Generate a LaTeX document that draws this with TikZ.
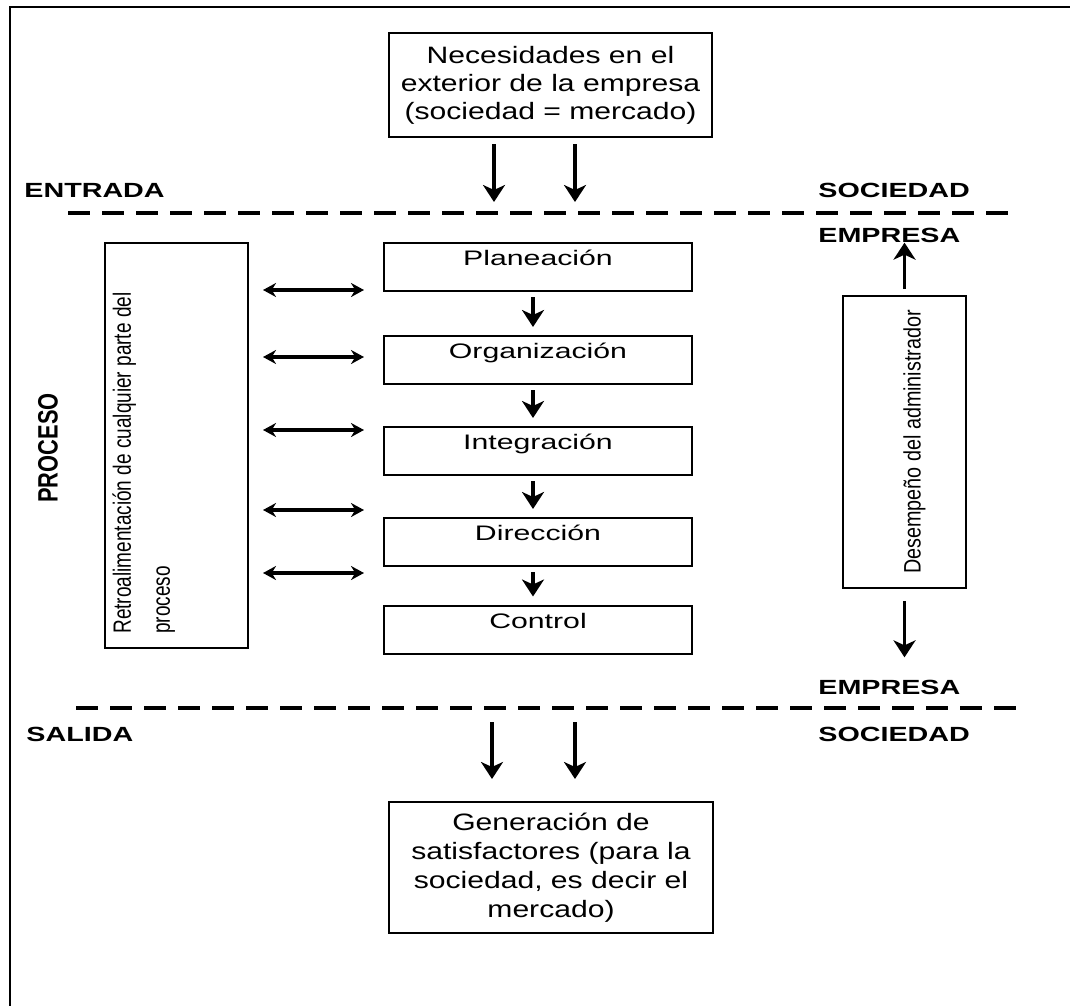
\documentclass[tikz,border=0pt]{standalone}
\usepackage{fontspec}
\setmainfont{Liberation Sans}
\newfontfamily\boxfont[FakeStretch=1.27]{Liberation Sans}
\newfontfamily\stepfont[FakeStretch=1.44]{Liberation Sans}
\newfontfamily\tagfont[FakeStretch=1.4]{Liberation Sans}
\newfontfamily\fbfont[FakeStretch=0.76]{Liberation Sans}
\newfontfamily\desfont[FakeStretch=0.83]{Liberation Sans}
\newfontfamily\procfont[FakeStretch=0.78]{Liberation Sans}
\usetikzlibrary{arrows.meta}

\begin{document}
\begin{tikzpicture}[x=0.5pt,y=-0.5pt,
  infobox/.style={draw,line width=1pt,align=center,inner sep=0pt},
  stepbox/.style={draw,line width=1pt,inner sep=0pt,minimum width=154pt,
    text height=11.25pt,text depth=12.75pt,
    font=\stepfont\fontsize{10.5pt}{12pt}\selectfont},
  tag/.style={anchor=west,inner sep=0pt,font=\tagfont\bfseries\fontsize{10.25pt}{12pt}\selectfont},
  flow/.style={-{Stealth[length=8.5pt,width=11pt,inset=2.5pt]},line width=1.6pt},
  both/.style={{Stealth[length=6.5pt,width=7pt]}-{Stealth[length=6.5pt,width=7pt]},line width=1.8pt},
  cut/.style={line width=2pt,dash pattern=on 11pt off 6pt}]
  \useasboundingbox (0,0) rectangle (1070,1006);
  % frame
  \draw[line width=1pt] (1070,7) -- (9.5,7) -- (9.5,1006);

  % society boxes
  \node[infobox,minimum width=161.5pt,minimum height=52pt,
    font=\boxfont\fontsize{11.85pt}{14pt}\selectfont] (needs) at (550.5,85)
    {Necesidades en el\\exterior de la empresa\\(sociedad = mercado)};
  \node[infobox,minimum width=162pt,minimum height=65.5pt,
    font=\boxfont\fontsize{11.85pt}{14.5pt}\selectfont] (gen) at (551,867.5)
    {Generación de\\satisfactores (para la\\sociedad, es decir el\\mercado)};

  % process steps
  \node[stepbox] (plan) at (538,267) {Planeación};
  \node[stepbox] (org) at (538,360) {Organización};
  \node[stepbox] (integ) at (538,451) {Integración};
  \node[stepbox] (dir) at (538,542) {Dirección};
  \node[stepbox] (ctrl) at (538,629.5) {Control};

  % side boxes
  \node[draw,line width=1pt,minimum width=71.5pt,minimum height=202.5pt] (fb) at (176.5,445.5) {};
  \node[rotate=90,anchor=north west,align=left,inner sep=0pt,
    font=\fbfont\fontsize{12.5pt}{19.5pt}\selectfont] (fbtext) at ([xshift=4pt,yshift=7.5pt]fb.south west)
    {Retroalimentación de cualquier parte del\\proceso};
  \node[draw,line width=1pt,minimum width=61.5pt,minimum height=146pt] (des) at (904.5,442) {};
  \node[rotate=90,inner sep=0pt,font=\desfont\fontsize{11.9pt}{14pt}\selectfont] (destext)
    at ([xshift=5pt]des.center) {Desempeño del administrador};
  \node[rotate=90,inner sep=0pt,font=\procfont\bfseries\fontsize{14pt}{16pt}\selectfont] (proc)
    at (48,448) {PROCESO};

  % labels
  \node[tag] (entrada) at (24,190) {ENTRADA};
  \node[tag] (soc1) at (818,190) {SOCIEDAD};
  \node[tag] (emp1) at (818,235) {EMPRESA};
  \node[tag] (emp2) at (818,687) {EMPRESA};
  \node[tag] (salida) at (26,734) {SALIDA};
  \node[tag] (soc2) at (818,734) {SOCIEDAD};

  % boundaries
  \coordinate (inL) at (68,213);
  \coordinate (inR) at (1009,213);
  \coordinate (outL) at (76,708);
  \coordinate (outR) at (1020,708);
  \draw[cut] (inL) -- (inR);
  \draw[cut] (outL) -- (outR);

  % connectors
  \draw[flow,shorten <=3pt,shorten >=5.5pt] ([xshift=-28.25pt]needs.south) -- ([xshift=-28.25pt]needs.south |- inL);
  \draw[flow,shorten <=3pt,shorten >=5.5pt] ([xshift=12.25pt]needs.south) -- ([xshift=12.25pt]needs.south |- inL);
  \draw[flow,shorten <=7pt,shorten >=11pt] ([xshift=-29.5pt]gen.north |- outL) -- ([xshift=-29.5pt]gen.north);
  \draw[flow,shorten <=7pt,shorten >=11pt] ([xshift=12pt]gen.north |- outL) -- ([xshift=12pt]gen.north);
  \foreach \a/\b in {plan/org,org/integ,integ/dir,dir/ctrl}
    \draw[flow,shorten <=2.5pt,shorten >=4pt] ([xshift=-2.5pt]\a.south) -- ([xshift=-2.5pt]\b.north);
  \foreach \y in {290,357,430,510,573}
    \draw[both] ([xshift=7pt]fb.east |- 0,\y) -- ([xshift=-9.5pt]plan.west |- 0,\y);
  \draw[flow,shorten <=3pt] (des.north) -- (des.north |- emp1.south);
  \draw[flow,shorten <=6pt,shorten >=11pt] (des.south) -- (des.south |- emp2.north);
\end{tikzpicture}
\end{document}
